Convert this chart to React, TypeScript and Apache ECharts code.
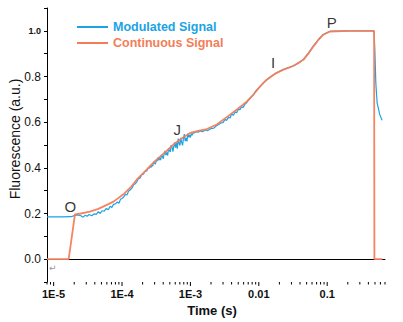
import React, { useEffect, useRef } from 'react';
import * as echarts from 'echarts';

const FONT = "'Liberation Sans Narrow', 'Liberation Sans', sans-serif";
const BLUE = '#1ba3e4';
const ORANGE = '#f47d58';

// Continuous signal (time s, fluorescence a.u.)
const continuousSignal: [number, number][] = [
  [8e-6, 0], [1.66e-5, 0], [2.05e-5, 0.196], [2.5e-5, 0.2], [3.4e-5, 0.208], [4.5e-5, 0.22],
  [6e-5, 0.238], [7.5e-5, 0.252], [1.05e-4, 0.284], [1.32e-4, 0.313], [1.65e-4, 0.349],
  [2.31e-4, 0.393], [3e-4, 0.428], [4.04e-4, 0.462], [5.65e-4, 0.502], [7.5e-4, 0.53],
  [9.9e-4, 0.553], [1.3e-3, 0.562], [1.74e-3, 0.57], [2.43e-3, 0.59], [3.8e-3, 0.633],
  [5e-3, 0.66], [6.65e-3, 0.69], [8.2e-3, 0.718], [1e-2, 0.75], [1.3e-2, 0.786], [1.8e-2, 0.815],
  [2.28e-2, 0.83], [3.19e-2, 0.846], [4.47e-2, 0.873], [5.3e-2, 0.9], [6.25e-2, 0.931],
  [7.5e-2, 0.962], [8.75e-2, 0.983], [0.11, 0.997], [0.2, 1.0], [0.485, 1.0], [0.49, 0.0], [0.64, 0.0],
];

// Modulated signal (time s, fluorescence a.u.)
const modulatedSignal: [number, number][] = [
  [8e-6, 0.185], [1.3e-5, 0.185], [1.8e-5, 0.186], [2.05e-5, 0.192], [2.3e-5, 0.194], [2.5e-5, 0.19],
  [2.7e-5, 0.184], [2.9e-5, 0.192], [3.1e-5, 0.188], [3.3e-5, 0.196], [3.6e-5, 0.19], [3.9e-5, 0.198],
  [4.2e-5, 0.196], [4.5e-5, 0.208], [4.8e-5, 0.2], [5.1e-5, 0.212], [5.5e-5, 0.21], [5.9e-5, 0.222],
  [6.3e-5, 0.216], [6.7e-5, 0.232], [7.1e-5, 0.226], [7.5e-5, 0.24], [8e-5, 0.242], [8.5e-5, 0.25],
  [9e-5, 0.245], [9.5e-5, 0.262], [1e-4, 0.266], [1.06e-4, 0.272], [1.12e-4, 0.284], [1.18e-4, 0.281],
  [1.25e-4, 0.298], [1.32e-4, 0.303], [1.4e-4, 0.312], [1.48e-4, 0.326], [1.56e-4, 0.33], [1.65e-4, 0.34],
  [1.74e-4, 0.352], [1.84e-4, 0.356], [1.94e-4, 0.37], [2.05e-4, 0.372], [2.17e-4, 0.384], [2.3e-4, 0.386],
  [2.4e-4, 0.398],
  [2.5e-4, 0.399], [2.58e-4, 0.409], [2.65e-4, 0.401], [2.73e-4, 0.412], [2.81e-4, 0.407], [2.9e-4, 0.426],
  [2.98e-4, 0.421], [3.07e-4, 0.416], [3.17e-4, 0.433], [3.26e-4, 0.429], [3.36e-4, 0.446], [3.46e-4, 0.433],
  [3.56e-4, 0.444], [3.67e-4, 0.434], [3.78e-4, 0.457], [3.89e-4, 0.45], [4.01e-4, 0.44], [4.13e-4, 0.461],
  [4.25e-4, 0.474], [4.38e-4, 0.456], [4.51e-4, 0.468], [4.65e-4, 0.454], [4.79e-4, 0.485], [4.93e-4, 0.475],
  [5.08e-4, 0.47], [5.23e-4, 0.5], [5.39e-4, 0.49], [5.55e-4, 0.471], [5.71e-4, 0.493], [5.89e-4, 0.512],
  [6.06e-4, 0.488], [6.25e-4, 0.51], [6.43e-4, 0.484], [6.63e-4, 0.528], [6.82e-4, 0.508], [7.03e-4, 0.498],
  [7.24e-4, 0.531], [7.46e-4, 0.512], [7.68e-4, 0.498], [7.91e-4, 0.529], [8.15e-4, 0.548], [8.39e-4, 0.517],
  [8.64e-4, 0.531], [8.9e-4, 0.516], [9.17e-4, 0.55], [9.45e-4, 0.534], [9.73e-4, 0.544], [1e-3, 0.533],
  [1.03e-3, 0.55], [1.06e-3, 0.543], [1.1e-3, 0.554],
  [1.15e-3, 0.553], [1.2e-3, 0.558], [1.3e-3, 0.556], [1.4e-3, 0.562], [1.5e-3, 0.558], [1.65e-3, 0.566],
  [1.8e-3, 0.563], [2e-3, 0.572], [2.2e-3, 0.574], [2.4e-3, 0.584], [2.6e-3, 0.59], [2.8e-3, 0.597],
  [3e-3, 0.598], [3.2e-3, 0.612], [3.4e-3, 0.608], [3.6e-3, 0.622], [3.8e-3, 0.618], [4e-3, 0.636],
  [4.25e-3, 0.63], [4.5e-3, 0.645], [4.75e-3, 0.641], [5e-3, 0.656], [5.3e-3, 0.655], [5.6e-3, 0.667],
  [5.9e-3, 0.664], [6.3e-3, 0.68], [6.7e-3, 0.686], [7.1e-3, 0.697], [7.6e-3, 0.706], [8.3e-3, 0.72],
  [9.1e-3, 0.738], [1e-2, 0.75], [1.13e-2, 0.768], [1.3e-2, 0.784], [1.5e-2, 0.8], [1.8e-2, 0.815],
  [2.28e-2, 0.83], [2.8e-2, 0.84], [3.2e-2, 0.847], [3.8e-2, 0.858], [4.47e-2, 0.874], [5.3e-2, 0.902],
  [6.25e-2, 0.933], [7.5e-2, 0.963], [8.75e-2, 0.984], [0.1, 0.993], [0.11, 0.998], [0.2, 1.0],
  [0.47, 1.0], [0.485, 0.995], [0.497, 0.917], [0.514, 0.772], [0.537, 0.684], [0.587, 0.633], [0.635, 0.608],
];

// OJIP phase annotations
const phaseNames = ['O', 'J', 'I', 'P'];
const phaseTimes = [1.75e-5, 6.4e-4, 0.0161, 0.117];
const phaseValues = [0.231, 0.568, 0.86, 1.035];

// X axis (logarithmic time)
const xMin = 8e-6;
const xMax = 0.7;
const xDecades = [-5, -4, -3, -2, -1];
const xDecadeLabels = ['1E-5', '1E-4', '1E-3', '0.01', '0.1'];
const xMajorTicks = [1e-5, 1e-4, 1e-3, 1e-2, 1e-1];
const xMinorTicks = [
  8e-6, 9e-6,
  2e-5, 3e-5, 4e-5, 5e-5, 6e-5, 7e-5, 8e-5, 9e-5,
  2e-4, 3e-4, 4e-4, 5e-4, 6e-4, 7e-4, 8e-4, 9e-4,
  2e-3, 3e-3, 4e-3, 5e-3, 6e-3, 7e-3, 8e-3, 9e-3,
  2e-2, 3e-2, 4e-2, 5e-2, 6e-2, 7e-2, 8e-2, 9e-2,
  0.2, 0.3, 0.4, 0.5, 0.6, 0.7,
];

// Y axis
const yMin = -0.1;
const yMax = 1.1;
const yStep = 0.1;

const lg = (t: number) => Math.log10(t);

export default function App() {
  const ref = useRef<HTMLDivElement>(null);

  useEffect(() => {
    document.body.style.margin = '0';
    if (!ref.current) return;
    const chart = echarts.init(ref.current, null, { renderer: 'svg' });

    const tickData = [
      ...xMajorTicks.map((t) => [lg(t), yMin, 4]),
      ...xMinorTicks.map((t) => [lg(t), yMin, 2.5]),
    ];

    chart.setOption({
      animation: false,
      backgroundColor: '#ffffff',
      textStyle: { fontFamily: FONT },
      grid: { left: 47, right: 18, top: 8, bottom: 39 },
      legend: {
        orient: 'vertical',
        left: 77,
        top: 19,
        padding: 0,
        itemWidth: 31,
        itemHeight: 2,
        itemGap: 0,
        icon: 'rect',
        data: [
          { name: 'Modulated Signal', textStyle: { color: BLUE } },
          { name: 'Continuous Signal', textStyle: { color: ORANGE } },
        ],
        textStyle: { fontFamily: FONT, fontSize: 12.5, fontWeight: 'bold', lineHeight: 16 },
      },
      xAxis: {
        type: 'value',
        min: lg(xMin),
        max: lg(xMax),
        name: 'Time (s)',
        nameLocation: 'middle',
        nameGap: 22,
        nameTextStyle: { fontFamily: FONT, fontSize: 13, fontWeight: 'bold', color: '#111', padding: [0, 8, 0, 0] },
        axisLine: { show: true, lineStyle: { color: '#000', width: 1 } },
        axisTick: { show: false },
        splitLine: { show: false },
        axisLabel: {
          margin: 6,
          fontFamily: FONT,
          fontSize: 11,
          fontWeight: 'bold',
          color: '#111',
          showMinLabel: true,
          showMaxLabel: true,
          formatter: (v: number) => {
            const r = Math.round(v);
            if (Math.abs(v - r) > 0.01) return '';
            const i = xDecades.indexOf(r);
            return i >= 0 ? xDecadeLabels[i] : '';
          },
        },
      },
      yAxis: {
        type: 'value',
        min: yMin,
        max: yMax,
        interval: yStep,
        axisLine: { show: true, lineStyle: { color: '#000', width: 1 } },
        axisTick: { show: true, length: 3, inside: false, lineStyle: { color: '#000' } },
        splitLine: { show: false },
        axisLabel: {
          margin: 6,
          fontFamily: FONT,
          fontSize: 12,
          color: '#111',
          formatter: (v: number) => {
            const k = Math.round(v * 10);
            if (k < 0 || k % 2 !== 0 || k > 10) return '';
            if (k === 10) return '{s|1.0}';
            return (k / 10).toFixed(1);
          },
          rich: { s: { fontFamily: FONT, fontSize: 9, fontWeight: 'bold', color: '#111' } },
        },
      },
      graphic: [
        {
          type: 'text',
          x: 15,
          y: 139,
          rotation: Math.PI / 2,
          style: {
            text: 'Fluorescence (a.u.)',
            fill: '#111',
            fontSize: 14,
            fontFamily: FONT,
            align: 'center',
            verticalAlign: 'middle',
          },
          silent: true,
        },
        {
          type: 'text',
          left: 49,
          top: 263,
          style: { text: '\u21B5', fill: '#999', fontSize: 9, fontFamily: 'DejaVu Sans' },
          silent: true,
        },
      ],
      series: [
        {
          name: 'Modulated Signal',
          type: 'line',
          data: modulatedSignal.map(([t, v]) => [lg(t), v]),
          showSymbol: false,
          symbol: 'none',
          lineStyle: { color: BLUE, width: 1.2 },
          itemStyle: { color: BLUE },
          z: 2,
        },
        {
          name: 'Continuous Signal',
          type: 'line',
          data: continuousSignal.map(([t, v]) => [lg(t), v]),
          showSymbol: false,
          symbol: 'none',
          lineStyle: { color: ORANGE, width: 1.8, opacity: 0.95 },
          itemStyle: { color: ORANGE },
          z: 3,
        },
        {
          name: 'phases',
          type: 'scatter',
          data: phaseNames.map((n, i) => ({ name: n, value: [lg(phaseTimes[i]), phaseValues[i]] })),
          symbolSize: 0,
          silent: true,
          label: {
            show: true,
            position: 'inside',
            formatter: '{b}',
            fontFamily: FONT,
            fontSize: 15,
            color: '#000',
          },
          z: 4,
        },
        {
          name: 'xticks',
          type: 'custom',
          silent: true,
          clip: false,
          data: tickData,
          renderItem: (params: any, api: any) => {
            const p = api.coord([api.value(0), api.value(1)]);
            const len = api.value(2);
            return {
              type: 'line',
              shape: { x1: p[0], y1: p[1], x2: p[0], y2: p[1] + len },
              style: { stroke: '#000', lineWidth: 1 },
            };
          },
          z: 5,
        },
      ],
    });

    return () => chart.dispose();
  }, []);

  return <div ref={ref} style={{ width: 403, height: 322 }} />;
}
